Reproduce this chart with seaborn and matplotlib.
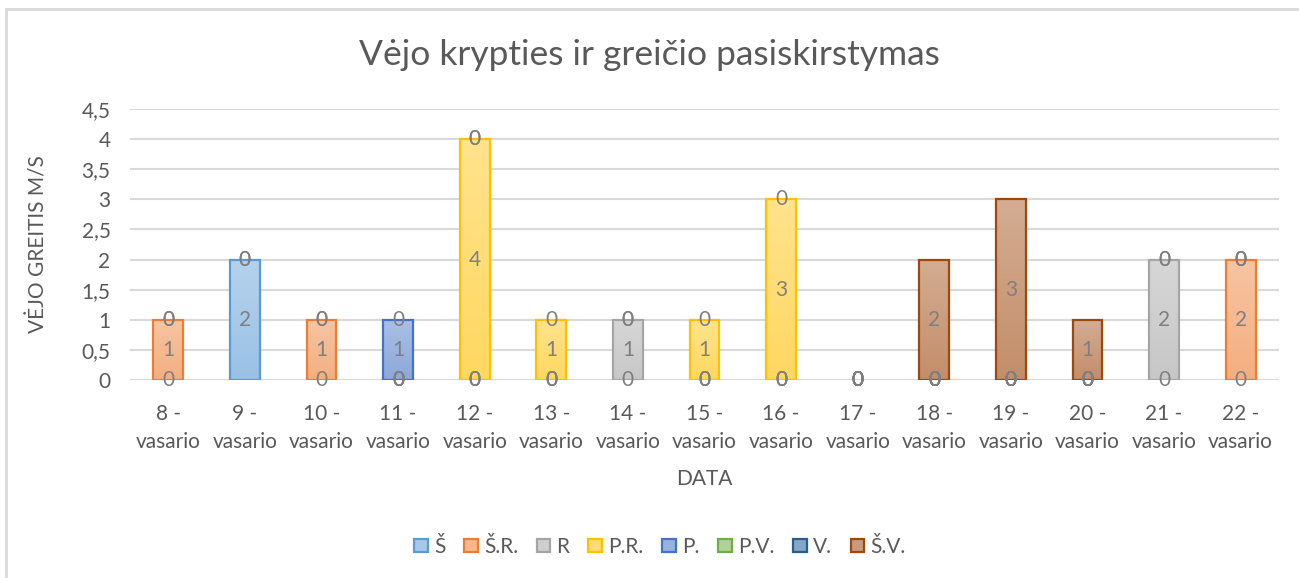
import numpy as np
import pandas as pd
import seaborn as sns
import matplotlib.pyplot as plt
from matplotlib.colors import to_rgb
from matplotlib.patches import Patch, Rectangle

sns.set_theme(style="white")
plt.rcParams['font.family'] = ['Lato', 'DejaVu Sans']

N = np.nan
dates = ["8 -\nvasario", "9 -\nvasario", "10 -\nvasario", "11 -\nvasario", "12 -\nvasario",
         "13 -\nvasario", "14 -\nvasario", "15 -\nvasario", "16 -\nvasario", "17 -\nvasario",
         "18 -\nvasario", "19 -\nvasario", "20 -\nvasario", "21 -\nvasario", "22 -\nvasario"]

series = ["Š", "Š.R.", "R", "P.R.", "P.", "P.V.", "V.", "Š.V."]
colors = ["#5B9BD5", "#ED7D31", "#A5A5A5", "#FFC000", "#4472C4", "#70AD47", "#255E91", "#9E480E"]

# wind speed per direction, NaN = no value in the source table
s_S   = [0, 2, 0, 0, 0, 0, 0, 0, 0, 0, 0, 0, 0, 0, 0]
s_SR  = [1, 0, 1, 0, 0, 0, N, 0, 0, 0, 0, 0, 0, N, 2]
s_R   = [0, 0, 0, 0, 0, 0, 1, 0, 0, 0, 0, 0, 0, 2, 0]
s_PR  = [0, N, 0, 0, 4, 1, 0, 1, 3, 0, 0, 0, 0, 0, 0]
s_P   = [N, N, N, 1, 0, 0, 0, 0, 0, 0, 0, 0, 0, 0, 0]
s_PV  = [N, N, N, 0, 0, N, N, N, N, 0, 0, 0, 0, N, N]
s_V   = [N, N, N, N, N, N, N, N, N, 0, 0, 0, 0, N, N]
s_SV  = [N, N, N, N, N, N, N, N, N, 0, 2, 3, 1, N, N]
values = [s_S, s_SR, s_R, s_PR, s_P, s_PV, s_V, s_SV]

fig = plt.figure(figsize=(12.99, 5.78), dpi=100)
ax = fig.add_axes([0.1001, 0.3426, 0.8845, 0.4688])

grey_txt = "#595959"
fs = 15
bottom = np.zeros(len(dates))
for name, col, vals in zip(series, colors, values):
    v = np.array(vals, dtype=float)
    filled = np.nan_to_num(v)
    n_before = len(ax.patches)
    sns.barplot(x=dates, y=filled, bottom=bottom.copy(), color=col, width=0.39,
                errorbar=None, ax=ax, saturation=1, zorder=3)
    patches = ax.patches[n_before:]
    base = np.array(to_rgb(col))
    top_c = base + (1 - base) * 0.55
    bot_c = base + (1 - base) * 0.38
    grad = np.linspace(0, 1, 64)[:, None, None]
    img = top_c * (1 - grad) + bot_c * grad
    for p, h, b, raw in zip(patches, filled, bottom, v):
        if h == 0:
            p.set_visible(False)
        else:
            p.set_facecolor("none")
            p.set_edgecolor(col)
            p.set_linewidth(1.6)
            x0 = p.get_x()
            im = ax.imshow(img, extent=[x0, x0 + p.get_width(), b, b + h], aspect="auto",
                           origin="upper", zorder=2.5, interpolation="bilinear")
            im.set_clip_path(p)
        if not np.isnan(raw):
            xc = p.get_x() + p.get_width() / 2
            ax.text(xc, b + h / 2, f"{int(raw)}", ha="center", va="center",
                    fontsize=fs, color="#7F7F7F", zorder=5)
    bottom = bottom + filled

ax.set_xlim(-0.5, len(dates) - 0.5)
ax.set_ylim(0, 4.5)
ax.set_yticks(np.arange(0, 4.51, 0.5))
ax.set_yticklabels([f"{t:g}".replace(".", ",") for t in np.arange(0, 4.51, 0.5)])
ax.set_xticks(range(len(dates)))
ax.set_xticklabels(dates, linespacing=1.55)
ax.yaxis.grid(True, color="#D9D9D9", linewidth=1.5, zorder=0)
ax.set_axisbelow(True)
for s in ax.spines.values():
    s.set_visible(False)
ax.tick_params(axis="both", length=0, labelsize=fs, labelcolor=grey_txt)
ax.tick_params(axis="x", pad=17)
ax.tick_params(axis="y", pad=14)
ax.set_xlabel("DATA", fontsize=fs, color=grey_txt, labelpad=12)
ax.set_ylabel("VĖJO GREITIS M/S", fontsize=fs, color=grey_txt, labelpad=24)

fig.text(0.5, 0.905, "Vėjo krypties ir greičio pasiskirstymas", ha="center", va="center",
         fontsize=25.5, color=grey_txt)

handles = []
for col in colors:
    base = np.array(to_rgb(col))
    handles.append(Patch(facecolor=base + (1 - base) * 0.45, edgecolor=col, linewidth=1.6))
fig.legend(handles, series, loc="center", bbox_to_anchor=(0.508, 0.054), ncol=8, frameon=False,
           fontsize=fs, labelcolor=grey_txt, handlelength=0.65, handleheight=0.65,
           handletextpad=0.3, columnspacing=0.9)

fig.patches.append(Rectangle((6 / 1299, -0.1), 1.2, 1 - 9 / 578 + 0.1, transform=fig.transFigure,
                             fill=False, edgecolor="#D9D9D9", linewidth=2))

fig.savefig("out.png", dpi=100)
